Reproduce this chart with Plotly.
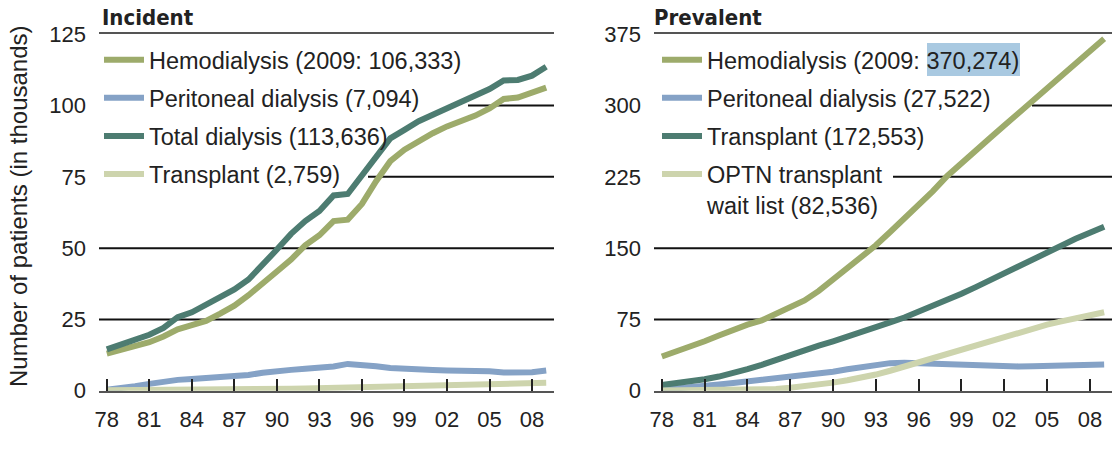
import plotly.graph_objects as go

years = list(range(1978, 2010))

# Incident (thousands)
inc_hemo = [13.0, 14.3, 15.6, 17.0, 19.0, 21.5, 23.0, 24.5, 27.0, 29.8, 33.5, 38.0, 41.8, 46.0, 51.0, 54.5,
            59.5, 60.0, 65.5, 73.5, 80.5, 84.5, 87.5, 90.3, 92.7, 94.6, 96.5, 99.0, 102.3, 102.8, 104.3, 106.3]
inc_pd = [0.3, 0.8, 1.6, 2.4, 3.2, 3.8, 4.1, 4.4, 4.7, 5.0, 5.5, 6.3, 7.0, 7.3, 7.7, 7.9,
          8.5, 9.4, 9.2, 8.6, 8.0, 7.6, 7.3, 7.3, 7.1, 7.1, 7.0, 6.8, 6.4, 6.3, 6.5, 7.1]
inc_total = [14.5, 16.2, 17.8, 19.6, 22.0, 25.8, 27.5, 30.2, 32.8, 35.5, 39.0, 44.0, 49.5, 55.0, 59.5, 63.0,
             68.5, 69.0, 75.5, 82.5, 88.5, 91.5, 94.5, 96.8, 99.0, 101.4, 103.5, 105.8, 108.8, 109.0, 110.5, 113.6]
inc_tx = [0.2, 0.2, 0.3, 0.3, 0.3, 0.4, 0.4, 0.5, 0.5, 0.5, 0.6, 0.6, 0.7, 0.7, 0.8, 0.9,
          1.0, 1.1, 1.2, 1.3, 1.4, 1.5, 1.7, 1.8, 2.0, 2.1, 2.3, 2.4, 2.5, 2.6, 2.7, 2.76]

# Prevalent (thousands)
prev_hemo = [36, 41, 46.5, 52, 58, 64, 69.5, 74, 80.5, 87.5, 95, 105, 117, 128, 140, 153,
             167, 181, 195, 210, 226, 240, 254, 266, 279, 292, 305, 318, 331, 344, 357, 370.3]
prev_pd = [1, 2, 3.5, 5, 6.5, 8, 9.5, 11, 12.5, 14, 16, 18, 20, 22.5, 25, 27.5,
           29, 29.5, 29, 28.5, 27.5, 26.5, 26, 25.8, 25.6, 25.5, 25.6, 26, 26.2, 26.5, 27, 27.5]
prev_tx = [6, 7.8, 9.6, 12, 14.9, 18.4, 22.6, 27.2, 32.5, 37.8, 43.2, 47.4, 52, 56.6, 61.5, 66.3,
           71.8, 77, 83, 89, 95.5, 102, 109, 116.5, 124, 131.5, 139, 146.3, 153.2, 159.8, 166.3, 172.6]
prev_wait = [0.3, 0.3, 0.4, 0.5, 0.6, 0.8, 1.0, 1.2, 1.8, 3.0, 4.5, 6.5, 8.5, 11, 13.5, 17,
             21, 25.5, 30, 34, 38.5, 43, 48, 52.5, 57, 61.5, 65.5, 69.5, 73, 76.5, 79.5, 82.5]

tick_years = list(range(1978, 2009, 3))
tick_text = ["78", "81", "84", "87", "90", "93", "96", "99", "02", "05", "08"]
inc_ticks = [0, 25, 50, 75, 100, 125]
prev_ticks = [0, 75, 150, 225, 300, 375]

inc_names = ["Hemodialysis (2009: 106,333)", "Peritoneal dialysis (7,094)",
             "Total dialysis (113,636)", "Transplant (2,759)"]
prev_names = ["Hemodialysis (2009: 370,274)", "Peritoneal dialysis (27,522)",
              "Transplant (172,553)", "OPTN transplant<br>wait list (82,536)"]

C_HEMO = "#9dab6b"
C_PD = "#85a2c6"
C_TEAL = "#4d7c71"
C_PALE = "#cdd4ad"

W, H = 1114, 450
FONT = "Liberation Sans, Arial, sans-serif"
NARROW = "Liberation Sans Narrow, DejaVu Sans Condensed, Arial Narrow, sans-serif"

fig = go.Figure()

def add(x, y, name, color, xa, ya, leg, grp):
    fig.add_trace(go.Scatter(x=x, y=y, name=name, mode="lines",
                             line=dict(color=color, width=6, shape="linear"),
                             xaxis=xa, yaxis=ya, legend=leg, legendgroup=grp,
                             cliponaxis=False, hoverinfo="skip"))

add(years, inc_hemo, inc_names[0], C_HEMO, "x", "y", "legend", "a")
add(years, inc_pd, inc_names[1], C_PD, "x", "y", "legend", "b")
add(years, inc_total, inc_names[2], C_TEAL, "x", "y", "legend", "c")
add(years, inc_tx, inc_names[3], C_PALE, "x", "y", "legend", "d")

add(years, prev_hemo, prev_names[0], C_HEMO, "x2", "y2", "legend2", "e")
add(years, prev_pd, prev_names[1], C_PD, "x2", "y2", "legend2", "f")
add(years, prev_tx, prev_names[2], C_TEAL, "x2", "y2", "legend2", "g")
add(years, prev_wait, prev_names[3], C_PALE, "x2", "y2", "legend2", "h")

xcommon = dict(range=[1977.45, 2009.55], tickvals=tick_years, ticktext=tick_text,
               ticks="inside", ticklen=12, tickwidth=2, tickcolor="#222",
               showgrid=False, zeroline=False, showline=True, mirror=True,
               linecolor="#555", linewidth=2, automargin=False,
               tickfont=dict(family=FONT, size=22, color="#222"), ticklabelstandoff=8,
               fixedrange=True)
ycommon = dict(showgrid=False, zeroline=False, showline=False, ticks="",
               automargin=False, ticklabelstandoff=12,
               tickfont=dict(family=FONT, size=22, color="#222"), fixedrange=True)

yb, yt = (H - 390.7) / H, (H - 34.3) / H

legcommon = dict(bgcolor="rgba(0,0,0,0)", borderwidth=0, xanchor="left", yanchor="top",
                 font=dict(family=FONT, size=23.5, color="#222"), traceorder="grouped",
                 tracegroupgap=4.5, itemwidth=40, valign="top", itemclick=False)

fig.update_layout(
    width=W, height=H, template="none",
    paper_bgcolor="white", plot_bgcolor="rgba(0,0,0,0)",
    margin=dict(l=0, r=0, t=0, b=0),
    xaxis=dict(domain=[99 / W, 554 / W], anchor="y", **xcommon),
    yaxis=dict(domain=[yb, yt], anchor="x", range=[0, 125], tickvals=inc_ticks, **ycommon),
    xaxis2=dict(domain=[654 / W, 1112 / W], anchor="y2", **xcommon),
    yaxis2=dict(domain=[yb, yt], anchor="x2", range=[0, 375], tickvals=prev_ticks, **ycommon),
    legend=dict(x=99 / W, y=(H - 38) / H, **legcommon),
    legend2=dict(x=657 / W, y=(H - 38) / H, **legcommon),
    showlegend=True,
)

# Horizontal reference lines (start where the legend text ends)
grid_inc = [(25, 0.0), (50, 0.0), (75, (368 - 99) / 455), (100, (468 - 99) / 455)]
grid_prev = [(75, 0.0), (150, 0.0), (225, (893 - 654) / 458), (300, (1032 - 654) / 458)]
for v, s in grid_inc:
    fig.add_shape(type="line", xref="x domain", yref="y", x0=s, x1=1, y0=v, y1=v,
                  line=dict(color="#111", width=2), layer="below")
for v, s in grid_prev:
    fig.add_shape(type="line", xref="x2 domain", yref="y2", x0=s, x1=1, y0=v, y1=v,
                  line=dict(color="#111", width=2), layer="below")

# highlight behind the 2009 hemodialysis figure
fig.add_shape(type="rect", xref="paper", yref="paper",
              x0=927 / W, x1=1020 / W, y0=(H - 76) / H, y1=(H - 43) / H,
              fillcolor="#a9c9e1", line=dict(width=0), layer="below")

fig.add_annotation(text="<b>Incident</b>", xref="paper", yref="paper", x=100 / W, y=(H - 17) / H,
                   xanchor="left", yanchor="middle", showarrow=False,
                   font=dict(family=NARROW, size=22, color="#222"))
fig.add_annotation(text="<b>Prevalent</b>", xref="paper", yref="paper", x=652 / W, y=(H - 17) / H,
                   xanchor="left", yanchor="middle", showarrow=False,
                   font=dict(family=NARROW, size=22, color="#222"))
fig.add_annotation(text="Number of patients (in thousands)", xref="paper", yref="paper",
                   x=19 / W, y=(H - 206) / H, xanchor="center", yanchor="middle",
                   textangle=-90, showarrow=False,
                   font=dict(family=FONT, size=24, color="#222"))

fig.write_html("out.html")
